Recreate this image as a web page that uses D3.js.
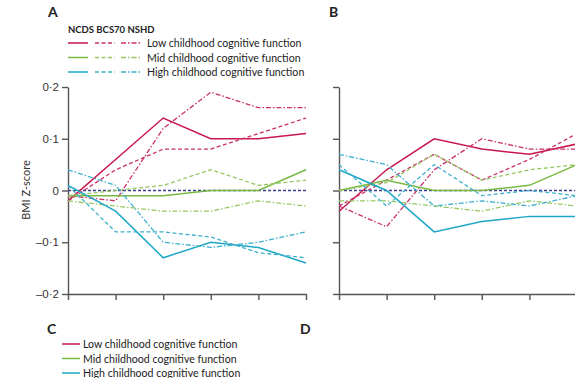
<!DOCTYPE html>
<html>
<head>
<meta charset="utf-8">
<script src="https://cdn.jsdelivr.net/npm/d3@7"></script>
<style>
  body { margin: 0; background: #fff; }
  svg { display: block; font-family: Lato, "Liberation Sans", Arial, sans-serif; }
  .axis path, .axis line { stroke: #555; stroke-width: 1.4; }
  .axis text { fill: #333; font-size: 11.5px; }
</style>
</head>
<body>
<div id="chart"></div>
<script>
// survey waves (x positions, unlabelled in the figure)
const waves = [0, 1, 2, 3, 4, 5];
const cohorts = ["NCDS", "BCS70", "NSHD"];
const groups = ["Low childhood cognitive function", "Mid childhood cognitive function", "High childhood cognitive function"];
const yTicks = [-0.2, -0.1, 0, 0.1, 0.2];

// panel A, each row is one cohort: NCDS, BCS70, NSHD
const panelALow  = [[-0.02, 0.06, 0.14, 0.10, 0.10, 0.11],
                    [-0.02, 0.04, 0.08, 0.08, 0.11, 0.14],
                    [-0.01, -0.02, 0.12, 0.19, 0.16, 0.16]];
const panelAMid  = [[-0.01, -0.01, -0.01, 0.00, 0.00, 0.04],
                    [-0.01, 0.00, 0.01, 0.04, 0.01, 0.02],
                    [-0.02, -0.03, -0.04, -0.04, -0.02, -0.03]];
const panelAHigh = [[0.01, -0.04, -0.13, -0.10, -0.11, -0.14],
                    [0.01, -0.08, -0.08, -0.09, -0.12, -0.13],
                    [0.04, 0.01, -0.10, -0.11, -0.10, -0.08]];

// panel B
const panelBLow  = [[-0.04, 0.04, 0.10, 0.08, 0.07, 0.09],
                    [-0.03, 0.02, 0.07, 0.02, 0.06, 0.11],
                    [-0.03, -0.07, 0.04, 0.10, 0.08, 0.08]];
const panelBMid  = [[0.00, 0.02, 0.00, 0.00, 0.01, 0.05],
                    [0.00, 0.015, 0.07, 0.02, 0.04, 0.05],
                    [-0.02, -0.02, -0.03, -0.04, -0.02, -0.03]];
const panelBHigh = [[0.04, 0.00, -0.08, -0.06, -0.05, -0.05],
                    [0.05, -0.03, 0.05, -0.01, 0.00, -0.01],
                    [0.07, 0.05, -0.03, -0.02, -0.03, -0.01]];

const colors = ["#c8174b", "#78b943", "#1ea7c6"];
const dashColors = ["#c8306a", "#97c763", "#3cb0cc"];
const dashes = [null, "4,2.5", "5,2,1.5,2"];
const refColor = "#3b3e8a";

const svg = d3.select("#chart").append("svg")
  .attr("width", 575).attr("height", 378);

const y = d3.scaleLinear().domain([-0.2, 0.2]).range([294, 87]);
const fmt = d => d === 0 ? "0" : (d < 0 ? "–" : "") + d3.format(".1f")(Math.abs(d)).replace(".", "·");

function drawPanel(xRange, series, label, labelX, showLabels) {
  const x = d3.scalePoint().domain(waves).range(xRange);
  const g = svg.append("g");

  g.append("g").attr("class", "axis")
    .attr("transform", `translate(${xRange[0]},0)`)
    .call(d3.axisLeft(y).tickValues(yTicks).tickSize(6).tickSizeOuter(0)
      .tickFormat(showLabels ? fmt : ""));

  g.append("g").attr("class", "axis")
    .attr("transform", "translate(0,294)")
    .call(d3.axisBottom(x).tickSize(6).tickSizeOuter(0).tickFormat(""));

  const line = d3.line()
    .x((d, i) => x(waves[i]))
    .y(d => y(d));

  // reference line at zero
  g.append("path")
    .attr("d", line(waves.map(() => 0)))
    .attr("fill", "none")
    .attr("stroke", refColor)
    .attr("stroke-width", 1.3)
    .attr("stroke-dasharray", "3,2");

  series.forEach((grp, gi) => {
    grp.forEach((vals, ci) => {
      g.append("path")
        .attr("d", line(vals))
        .attr("fill", "none")
        .attr("stroke", ci === 0 ? colors[gi] : dashColors[gi])
        .attr("stroke-width", ci === 0 ? 1.5 : 1.3)
        .attr("stroke-dasharray", dashes[ci]);
    });
  });

  svg.append("text")
    .attr("x", labelX).attr("y", 17)
    .attr("font-size", 14).attr("font-weight", "bold")
    .attr("fill", "#222")
    .text(label);
}

drawPanel([68, 306], [panelALow, panelAMid, panelAHigh], "A", 48, true);
drawPanel([339, 577], [panelBLow, panelBMid, panelBHigh], "B", 329, false);

// y axis title
svg.append("text")
  .attr("transform", "translate(30,190) rotate(-90)")
  .attr("text-anchor", "middle")
  .attr("font-size", 11)
  .attr("fill", "#333")
  .text("BMI Z-score");

// legend for A and B
svg.append("text")
  .attr("x", 68).attr("y", 33)
  .attr("font-size", 9.5).attr("font-weight", "bold")
  .attr("fill", "#222")
  .text(cohorts.join(" "));

const sampleX = [[68, 88], [95, 115], [121, 141]];
groups.forEach((name, gi) => {
  const yy = 43 + gi * 14.5;
  sampleX.forEach((sx, ci) => {
    svg.append("line")
      .attr("x1", sx[0]).attr("x2", sx[1])
      .attr("y1", yy).attr("y2", yy)
      .attr("stroke", ci === 0 ? colors[gi] : dashColors[gi])
      .attr("stroke-width", 1.5)
      .attr("stroke-dasharray", dashes[ci]);
  });
  svg.append("text")
    .attr("x", 147).attr("y", yy + 4)
    .attr("font-size", 10.6).attr("fill", "#222")
    .text(name);
});

// panels C and D headers
svg.append("text").attr("x", 47).attr("y", 334)
  .attr("font-size", 14).attr("font-weight", "bold").attr("fill", "#222").text("C");
svg.append("text").attr("x", 300).attr("y", 334)
  .attr("font-size", 14).attr("font-weight", "bold").attr("fill", "#222").text("D");

groups.forEach((name, gi) => {
  const yy = 344 + gi * 14.5;
  svg.append("line")
    .attr("x1", 62).attr("x2", 80)
    .attr("y1", yy).attr("y2", yy)
    .attr("stroke", colors[gi])
    .attr("stroke-width", 1.5);
  svg.append("text")
    .attr("x", 83).attr("y", yy + 4)
    .attr("font-size", 10.6).attr("fill", "#222")
    .text(name);
});
</script>
</body>
</html>
